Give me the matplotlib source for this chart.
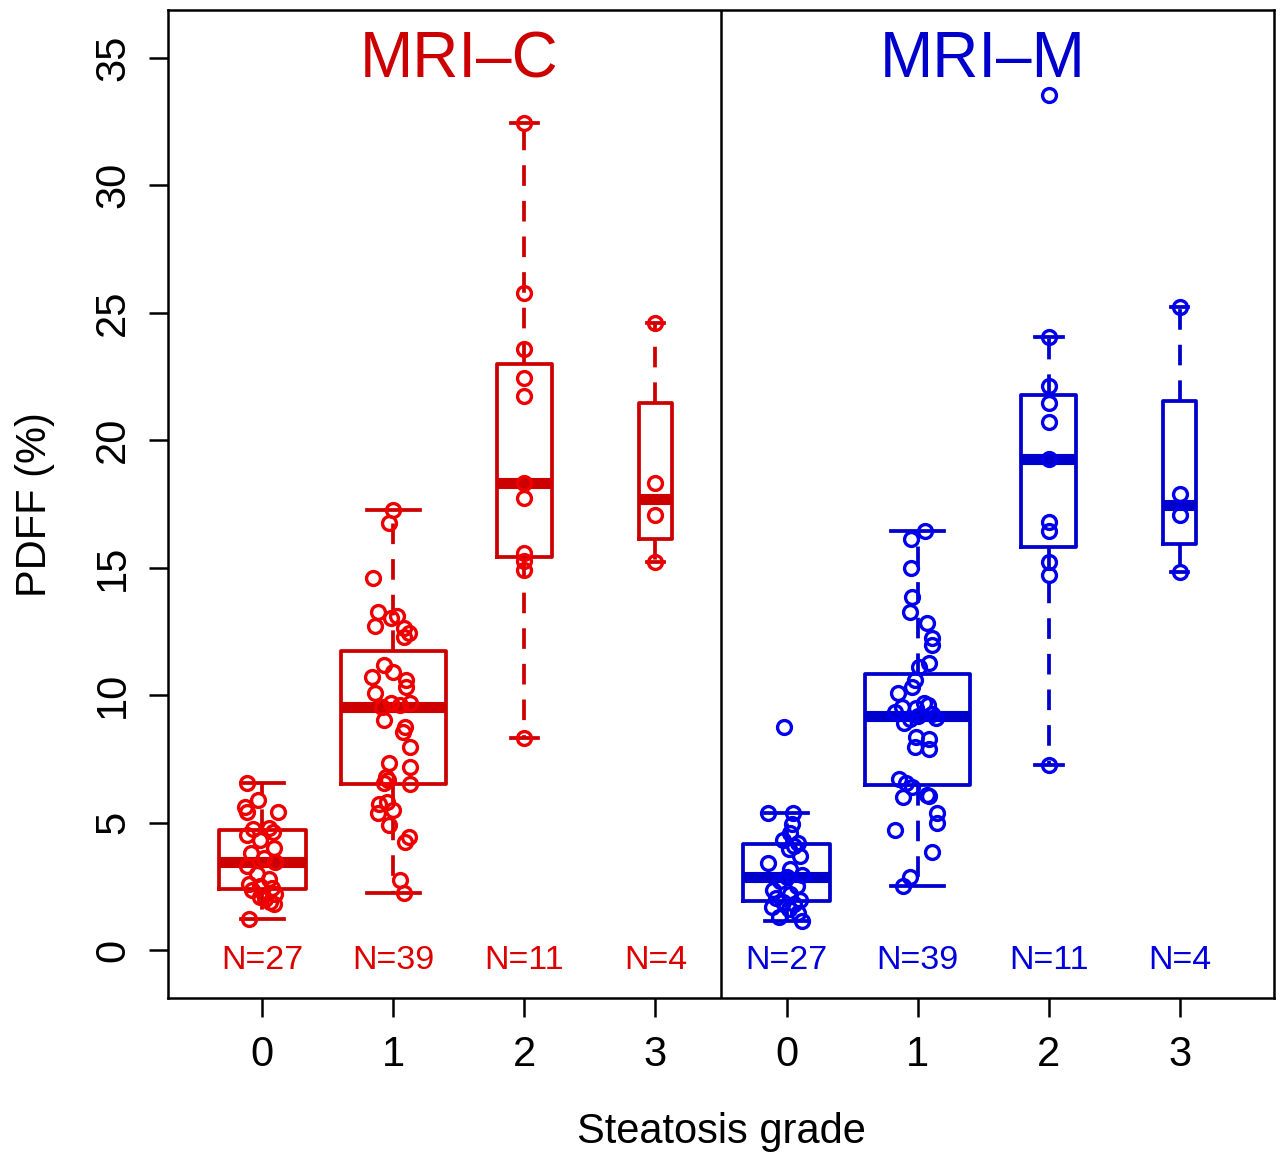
import numpy as np
import matplotlib
matplotlib.use("Agg")
import matplotlib.pyplot as plt

plt.rcParams['font.family'] = ['Liberation Sans', 'DejaVu Sans']

# ---------------- data ----------------
grade_labels = ["0", "1", "2", "3"]
panel_titles = ["MRI\u2013C", "MRI\u2013M"]

# MRI-C (PDFF %, per steatosis grade)
mric_g0 = [6.55, 5.9, 5.6, 5.4, 5.4, 4.8, 4.75, 4.65, 4.5, 4.3, 4.0, 3.8, 3.6, 3.45,
           3.3, 3.0, 2.8, 2.6, 2.5, 2.45, 2.35, 2.2, 2.1, 2.0, 1.9, 1.8, 1.2]
mric_g0_jit = [-0.12, -0.03, -0.13, -0.12, 0.12, 0.05, -0.07, 0.08, -0.12, -0.02, 0.09,
               -0.09, 0.01, 0.10, -0.12, -0.04, 0.05, -0.10, -0.015, 0.07, -0.08, 0.10,
               -0.015, 0.02, 0.06, 0.09, -0.10]
mric_g1 = [17.26, 16.76, 14.58, 13.27, 13.01, 13.1, 12.71, 12.62, 12.42, 12.29, 11.18,
           10.72, 10.92, 10.59, 10.33, 10.07, 9.68, 9.68, 9.62, 9.55,
           9.02, 8.76, 8.56, 7.98, 7.32, 7.19, 6.8, 6.69, 6.54, 6.5, 5.75, 5.82, 5.36,
           5.49, 4.9, 4.44, 4.25, 2.75, 2.22]
mric_g1_jit = [0.0, -0.03, -0.155, -0.12, -0.02, 0.03, -0.14, 0.08, 0.12, 0.08, -0.07,
               -0.16, 0.0, 0.10, 0.10, -0.14, -0.02, 0.13, 0.05, -0.09,
               -0.07, 0.09, 0.07, 0.13, -0.03, 0.13, -0.06, -0.04, -0.07, 0.13, -0.11,
               -0.05, -0.12, 0.0, -0.03, 0.12, 0.09, 0.05, 0.08]
mric_g2 = [32.45, 25.78, 23.58, 22.44, 21.73, 18.32, 17.73, 15.57, 15.26, 14.9, 8.32]
mric_g3 = [24.6, 18.32, 17.07, 15.22]

# MRI-M
mrim_g0 = [8.75, 5.37, 5.37, 4.95, 4.6, 4.3, 4.22, 4.1, 3.95, 3.7, 3.4, 3.2, 2.95, 2.86,
           2.7, 2.5, 2.35, 2.2, 2.05, 1.96, 1.88, 1.8, 1.7, 1.6, 1.45, 1.3, 1.15]
mrim_g0_jit = [-0.02, -0.14, 0.05, 0.04, 0.03, -0.03, 0.09, 0.06, 0.02, 0.10, -0.14,
               0.03, 0.12, 0.0, -0.05, 0.08, -0.10, 0.03, -0.08, 0.10, -0.03, 0.06,
               -0.11, 0.02, 0.09, -0.06, 0.12]
mrim_g1 = [16.45, 16.11, 14.97, 13.84, 13.27, 12.84, 12.23, 11.97, 11.27, 11.11, 10.59,
           10.33, 10.09, 9.55, 9.48, 9.61, 9.35, 9.28, 9.7, 9.18,
           9.05, 9.09, 8.9, 8.37, 8.3, 7.95, 7.87, 6.73, 6.54, 6.41, 6.01, 6.08, 6.04,
           5.36, 4.97, 4.71, 3.86, 2.88, 2.51]
mrim_g1_jit = [0.06, -0.05, -0.05, -0.04, -0.06, 0.07, 0.11, 0.11, 0.09, 0.01, -0.02,
               -0.04, -0.15, -0.12, -0.01, 0.08, -0.17, 0.11, 0.05, 0.0,
               -0.06, 0.14, -0.10, -0.01, 0.09, -0.02, 0.09, -0.14, -0.09, -0.04, -0.11,
               0.07, 0.09, 0.15, 0.15, -0.17, 0.11, -0.06, -0.11]
mrim_g2 = [33.54, 24.05, 22.13, 21.46, 20.71, 19.26, 16.79, 16.44, 15.22, 14.71, 7.26]
mrim_g3 = [25.23, 17.89, 17.07, 14.83]

panels = [
    dict(groups=[mric_g0, mric_g1, mric_g2, mric_g3],
         jitters=[mric_g0_jit, mric_g1_jit, None, None],
         box_color="#CC0000", pt_color="#EE0000", txt_color="#DD0000"),
    dict(groups=[mrim_g0, mrim_g1, mrim_g2, mrim_g3],
         jitters=[mrim_g0_jit, mrim_g1_jit, None, None],
         box_color="#0000CC", pt_color="#0000EE", txt_color="#0000DD"),
]


def tukey_stats(vals):
    x = np.sort(np.asarray(vals, dtype=float))
    n = len(x)
    n4 = np.floor((n + 3) / 2) / 2
    d = np.array([1, n4, (n + 1) / 2, n + 1 - n4, n])
    fn = 0.5 * (x[np.floor(d).astype(int) - 1] + x[np.ceil(d).astype(int) - 1])
    q1, med, q3 = fn[1], fn[2], fn[3]
    iqr = q3 - q1
    lo = x[x >= q1 - 1.5 * iqr].min()
    hi = x[x <= q3 + 1.5 * iqr].max()
    return dict(med=med, q1=q1, q3=q3, whislo=lo, whishi=hi, fliers=[])


# ---------------- figure ----------------
W, H, DPI = 1281, 1157, 100
fig = plt.figure(figsize=(W / DPI, H / DPI), dpi=DPI)
ax = fig.add_axes([168 / W, 1 - 998 / H, (1274 - 168) / W, (998 - 10) / H])

nmax = max(len(g) for p in panels for g in p["groups"])
for pi, p in enumerate(panels):
    positions = [pi * 4 + k + 1 for k in range(4)]
    stats = [tukey_stats(g) for g in p["groups"]]
    widths = [0.8 * np.sqrt(len(g) / nmax) for g in p["groups"]]
    c = p["box_color"]
    ax.bxp(stats, positions=positions, widths=widths,
           capwidths=[w * 0.5 for w in widths], showfliers=False,
           boxprops=dict(color=c, linewidth=2.7),
           whiskerprops=dict(color=c, linewidth=2.7, linestyle=(0, (5.5, 4))),
           capprops=dict(color=c, linewidth=2.7),
           medianprops=dict(color=c, linewidth=8, solid_capstyle='butt'),
           manage_ticks=False)
    for k, g in enumerate(p["groups"]):
        jit = p["jitters"][k] if p["jitters"][k] is not None else [0.0] * len(g)
        xs = positions[k] + np.asarray(jit)
        ax.plot(xs, g, linestyle='none', marker='o', markersize=10,
                markerfacecolor='none', markeredgecolor=p["pt_color"],
                markeredgewidth=2.4, zorder=3)
        ax.text(positions[k], -0.4, "N=%d" % len(g), color=p["txt_color"],
                fontsize=24.5, ha='center', va='center')
    ax.text(pi * 4 + 2.5, 34.9, panel_titles[pi], color=c, fontsize=46,
            ha='center', va='center')

ax.axvline(4.5, color='black', linewidth=1.8)
ax.set_xlim(0.28, 8.72)
ax.set_ylim(-1.88, 36.88)
ax.set_xticks(range(1, 9))
ax.set_xticklabels(grade_labels * 2)
ax.set_yticks(np.arange(0, 36, 5))
ax.set_yticklabels([str(v) for v in range(0, 36, 5)], rotation=90, va='center')
ax.tick_params(axis='both', length=14, width=1.8, labelsize=30, direction='out')
ax.tick_params(axis='x', pad=13)
ax.tick_params(axis='y', pad=11)
for s in ax.spines.values():
    s.set_linewidth(1.8)

fig.text(35 / W, 1 - 505 / H, "PDFF (%)", rotation=90, fontsize=30,
         ha='center', va='center')
fig.text(721 / W, 1 - 1132 / H, "Steatosis grade", fontsize=30,
         ha='center', va='center')

fig.savefig("out.png", dpi=DPI)
